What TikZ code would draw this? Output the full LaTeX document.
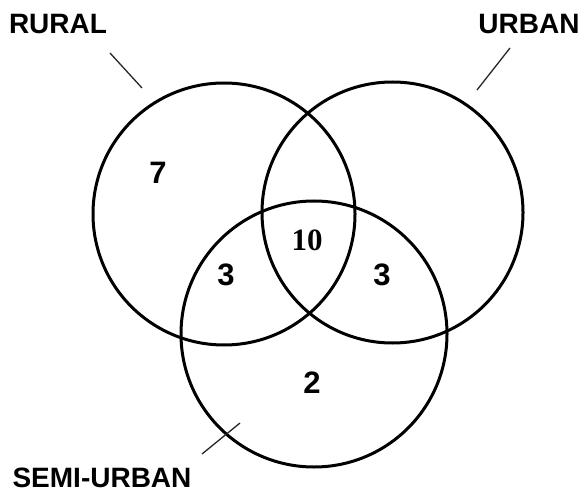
\documentclass[tikz,border=0pt]{standalone}
\usepackage{fontspec}
\setmainfont{Liberation Sans}
\newfontfamily\numserif{Liberation Serif}
\begin{document}
\begin{tikzpicture}[x=1pt,y=-1pt,
  setcircle/.style={circle,draw=black,line width=3pt,inner sep=0pt,minimum size=#1},
  setlabel/.style={font=\fontsize{28}{28}\selectfont\bfseries,inner sep=0pt},
  countsans/.style={font=\fontsize{31}{31}\selectfont\bfseries,inner sep=0pt},
  countserif/.style={font=\numserif\fontsize{31}{31}\selectfont\bfseries,inner sep=0pt},
  leader/.style={line width=1.3pt,draw=black!85}]
\useasboundingbox[fill=white] (0,0) rectangle (580,494);
\node[setcircle=262pt] (rural) at (224,214) {};
\node[setcircle=261pt] (urban) at (392.5,212.5) {};
\node[setcircle=266pt] (semi) at (314,334) {};
\node[setlabel] (lrural) at (58,24) {RURAL};
\node[setlabel] (lurban) at (529,24) {URBAN};
\node[setlabel] (lsemi) at (102,478) {SEMI-URBAN};
\coordinate (r1) at (110,53);
\coordinate (r2) at (142,88);
\coordinate (u1) at (510,48);
\coordinate (u2) at (477,90);
\coordinate (s1) at (202,454);
\coordinate (s2) at (240,423);
\draw[leader] (r1) -- (r2);
\draw[leader] (u1) -- (u2);
\draw[leader] (s1) -- (s2);
\node[countsans] (n7) at (158,173) {7};
\node[countserif] (n10) at (307,240) {10};
\node[countsans] (n3a) at (226,275) {3};
\node[countsans] (n3b) at (382,275) {3};
\node[countsans] (n2) at (312,383) {2};
\end{tikzpicture}
\end{document}
